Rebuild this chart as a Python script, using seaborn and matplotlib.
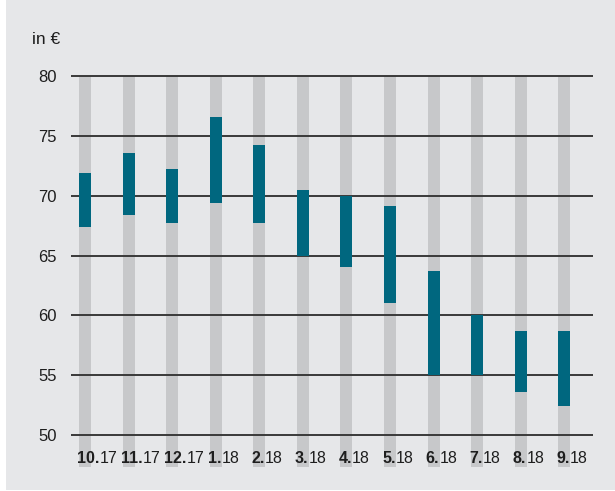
import pandas as pd
import seaborn as sns
import matplotlib.pyplot as plt
from matplotlib.patches import Rectangle

# ==========================================================
# Data (monthly price range, in EUR)
# ==========================================================

months = ["10.", "11.", "12.", "1.", "2.", "3.", "4.", "5.", "6.", "7.", "8.", "9."]
years = ["17", "17", "17", "18", "18", "18", "18", "18", "18", "18", "18", "18"]
low = [67.4, 68.4, 67.7, 69.4, 67.7, 65.0, 64.0, 61.0, 55.0, 55.0, 53.6, 52.4]
high = [71.9, 73.6, 72.2, 76.6, 74.2, 70.5, 70.0, 69.1, 63.7, 60.0, 58.7, 58.7]
yticks = [50, 55, 60, 65, 70, 75, 80]

df = pd.DataFrame({
    "month": [m + y for m, y in zip(months, years)],
    "low": low,
    "high": high,
})
df["span"] = df["high"] - df["low"]
df["full"] = 80

# ==========================================================
# Style
# ==========================================================

bg = "#e6e7e9"
teal = "#00677f"
grey = "#c7c8ca"
ink = "#1e1e1e"

sns.set_theme(style="white")
plt.rcParams["font.family"] = ["Liberation Sans", "DejaVu Sans"]

fig = plt.figure(figsize=(6.15, 4.91), dpi=100)
fig.patch.set_facecolor("white")
fig.patches.append(Rectangle((6 / 615, 1 / 491), 1 - 6 / 615, 1 - 1 / 491,
                             transform=fig.transFigure, facecolor=bg,
                             edgecolor="none", zorder=-10))

ax = fig.add_axes([71 / 615, 24 / 491, 522 / 615, 391 / 491])
ax.set_facecolor("none")
ax.set_zorder(1)

ymin = 47.33
width = 0.275

# grey background columns
sns.barplot(data=df, x="month", y="full", color=grey, width=width,
            saturation=1, linewidth=0, edgecolor="none", ax=ax, zorder=1)

# horizontal lines
ax.hlines(yticks, -0.32, 11.66, color="#3a3a3a", lw=1.4, zorder=2, clip_on=False)

# teal range bars
sns.barplot(data=df, x="month", y="span", bottom=df["low"], color=teal,
            width=width, saturation=1, linewidth=0, edgecolor="none",
            ax=ax, zorder=3)

ax.set_xlim(-0.32, 11.66)
ax.set_ylim(ymin, 80)
ax.set_yticks(yticks)
ax.set_yticklabels([str(v) for v in yticks], fontsize=12, color=ink)
ax.tick_params(axis="y", length=0, pad=10)
ax.set_xticks([])
ax.set_xlabel("")
ax.set_ylabel("")
sns.despine(ax=ax, left=True, bottom=True)

# month labels: bold month + regular year
for i, (m, y) in enumerate(zip(months, years)):
    t = ax.text(i - width / 2 - 0.04, ymin + 0.05, m, fontsize=11.5,
                fontweight="bold", color=ink, ha="left", va="bottom")
    ax.annotate(y, xy=(1, 0), xycoords=t, fontsize=11.5, color=ink,
                ha="left", va="bottom")

fig.text(32 / 615, 1 - 40 / 491, "in €", fontsize=12.5, color=ink,
         ha="left", va="center")

plt.savefig("out.png", dpi=100, facecolor=fig.get_facecolor())
